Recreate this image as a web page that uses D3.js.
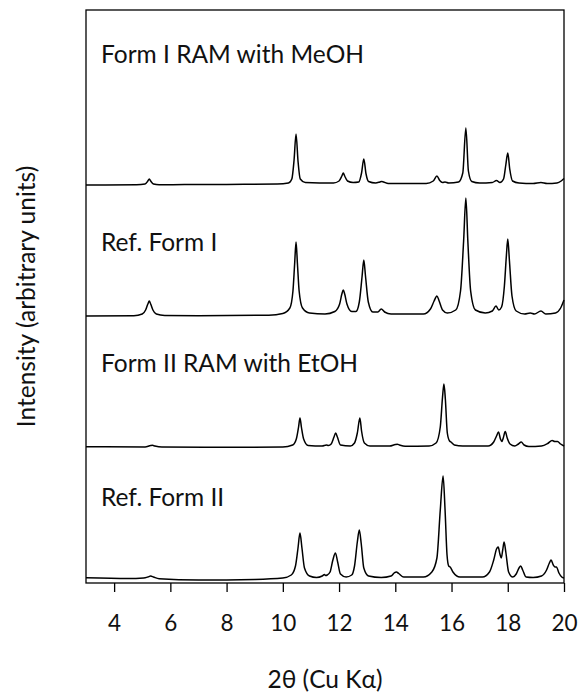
<!DOCTYPE html>
<html>
<head>
<meta charset="utf-8">
<script src="https://cdn.jsdelivr.net/npm/d3@7"></script>
<style>
  body { margin: 0; background: #fff; }
  svg { display: block; font-family: Lato, "Open Sans", sans-serif; }
</style>
</head>
<body>
<div id="chart"></div>
<script>
// pattern names, top to bottom
const patternNames = ['Form I RAM with MeOH', 'Ref. Form I', 'Form II RAM with EtOH', 'Ref. Form II'];
// vertical offset of each pattern (arbitrary units)
const patternOffsets = [398, 267, 136, 3];
const xTicks = [4, 6, 8, 10, 12, 14, 16, 18, 20];

// [2theta, intensity above own baseline]
const formIMeOH = [
  [3.0,0],[4.8,0.3],[5.1,1],[5.2,4],[5.25,6],[5.3,4],[5.4,1],[5.6,0.2],[6.5,0.5],[8,0.6],[9.8,1],
  [10.2,2],[10.32,6],[10.4,25],[10.47,51],[10.54,24],[10.62,6],[10.8,2.5],[11.8,2],[12.0,4],[12.1,9],
  [12.15,12],[12.2,9],[12.3,4],[12.5,2.5],[12.7,3],[12.8,12],[12.88,26],[12.96,11],[13.05,3.5],[13.3,2],
  [13.45,3],[13.51,3.5],[13.58,3],[13.75,1.5],[15.1,1.5],[15.35,4],[15.48,9],[15.58,4.5],[15.68,2.5],
  [15.77,3],[15.9,2],[16.25,3],[16.4,12],[16.51,57],[16.6,14],[16.72,3.5],[17.0,2],[17.45,2.5],[17.6,4.5],
  [17.72,2.5],[17.85,6],[17.93,20],[18.0,32],[18.07,16],[18.17,4],[18.4,2],[18.9,1.5],[19.18,2.5],
  [19.4,1.5],[19.75,2],[19.9,4],[20.0,6.5]
];
const refFormI = [
  [3.0,0],[4.7,0.3],[5.0,2],[5.12,6],[5.2,12],[5.25,15],[5.3,12],[5.38,6],[5.5,2],[5.8,0.5],[7,0.2],
  [9.5,0.8],[10.0,2.5],[10.25,8],[10.36,25],[10.42,52],[10.47,74],[10.52,52],[10.58,25],[10.7,8],
  [10.95,3],[11.5,2],[11.85,4.5],[12.02,12],[12.1,22],[12.15,26],[12.2,22],[12.28,12],[12.45,4.5],
  [12.6,4.5],[12.72,14],[12.82,40],[12.88,56],[12.94,40],[13.04,14],[13.2,4],[13.38,4],[13.5,7],
  [13.62,4],[13.85,2],[15.0,2],[15.25,7],[15.38,15],[15.48,20],[15.56,15],[15.68,6],[15.85,3],
  [16.15,6],[16.32,25],[16.43,75],[16.51,118],[16.58,75],[16.68,25],[16.85,6],[17.2,3],[17.45,5],
  [17.58,10],[17.68,6],[17.78,9],[17.88,30],[17.95,60],[18.0,77],[18.06,55],[18.15,20],[18.3,5],
  [18.6,2],[18.8,3],[18.95,2],[19.18,5],[19.35,2],[19.7,3],[19.88,8],[20.0,16]
];
const formIIEtOH = [
  [3.0,0.3],[5.1,0],[5.3,1.5],[5.36,1.7],[5.45,1],[5.7,0],[8,-0.3],[10.0,0],[10.35,2],[10.48,8],
  [10.56,20],[10.61,29],[10.66,20],[10.74,8],[10.9,1.5],[11.4,1],[11.55,2],[11.62,1.5],[11.72,3],
  [11.82,10],[11.88,14],[11.94,10],[12.05,2],[12.4,1],[12.55,4],[12.65,14],[12.74,29],[12.8,16],
  [12.9,4],[13.1,1],[13.8,1],[14.0,2.5],[14.07,2.8],[14.15,2],[14.35,0.7],[15.2,1],[15.45,4],
  [15.6,20],[15.68,50],[15.73,63],[15.78,48],[15.85,14],[15.93,6],[15.98,5],[16.1,2],[16.4,1],
  [17.3,1],[17.5,5],[17.6,11],[17.67,15],[17.74,8],[17.79,5.5],[17.84,9],[17.91,15.5],[17.98,9],
  [18.08,3],[18.25,1],[18.38,3],[18.48,5],[18.58,2],[18.75,0.5],[19.2,1],[19.42,3.5],[19.58,6.5],
  [19.67,5.5],[19.77,5.5],[19.88,3],[20.0,1]
];
const refFormII = [
  [3.0,2.3],[4.5,1.5],[5.05,2],[5.2,3],[5.3,4],[5.4,3],[5.6,1.2],[7,0],[9,0.6],[10.0,2],[10.3,5],
  [10.45,14],[10.54,32],[10.61,47],[10.68,32],[10.77,12],[10.95,4],[11.2,2.5],[11.4,4],[11.48,5.5],
  [11.52,4.5],[11.58,5],[11.68,8],[11.78,20],[11.87,27],[11.95,18],[12.05,6],[12.25,3],[12.45,5],
  [12.55,14],[12.65,38],[12.72,50],[12.79,36],[12.88,12],[13.05,4],[13.5,2.5],[13.85,4],[13.96,7],
  [14.04,8],[14.12,6.5],[14.3,3],[15.0,3],[15.3,8],[15.48,22],[15.6,70],[15.7,104],[15.77,70],
  [15.84,25],[15.9,14],[15.95,13],[16.05,8],[16.3,3],[17.1,3],[17.35,8],[17.5,20],[17.6,31],
  [17.66,33],[17.72,26],[17.77,22],[17.82,30],[17.87,38],[17.93,28],[18.03,8],[18.18,3],[18.3,6],
  [18.4,12],[18.46,14],[18.53,10],[18.65,3],[18.9,2.5],[19.2,4],[19.38,10],[19.48,17],[19.54,20],
  [19.62,15],[19.68,13],[19.73,13],[19.82,7],[19.92,3],[20.0,2]
];
const patterns = [formIMeOH, refFormI, formIIEtOH, refFormII];

const width = 582, height = 695;
const margin = { top: 10, right: 18, bottom: 112, left: 86 };
// label baselines, pixels above each pattern's offset
const labelRise = [122, 65, 75, 74];

const svg = d3.select('#chart').append('svg')
    .attr('width', width)
    .attr('height', height);

const x = d3.scaleLinear()
    .domain([3, 20])
    .range([margin.left, width - margin.right]);

const y = d3.scaleLinear()
    .domain([0, 573])
    .range([height - margin.bottom, margin.top]);

const line = d3.line()
    .x(d => x(d[0]))
    .y(d => y(d[1]))
    .curve(d3.curveMonotoneX);

const g = svg.append('g');

patterns.forEach((p, i) => {
  const off = patternOffsets[i];
  g.append('path')
      .datum(p.map(d => [d[0], d[1] + off]))
      .attr('fill', 'none')
      .attr('stroke', '#000')
      .attr('stroke-width', 1.5)
      .attr('stroke-linejoin', 'round')
      .attr('d', line);

  g.append('text')
      .attr('x', x(3) + 15)
      .attr('y', y(off) - labelRise[i])
      .attr('font-size', 24.5)
      .attr('fill', '#111')
      .text(patternNames[i]);
});

// frame
svg.append('rect')
    .attr('x', x(3))
    .attr('y', y(573))
    .attr('width', x(20) - x(3))
    .attr('height', y(0) - y(573))
    .attr('fill', 'none')
    .attr('stroke', '#000')
    .attr('stroke-width', 1.3);

svg.append('g')
    .attr('transform', `translate(0,${y(0)})`)
    .call(d3.axisBottom(x).tickValues(xTicks).tickSize(9).tickSizeOuter(0))
    .call(a => a.select('.domain').remove())
    .call(a => a.selectAll('.tick line').attr('stroke', '#000').attr('stroke-width', 1.3))
    .call(a => a.selectAll('.tick text')
      .attr('dy', null)
      .attr('y', 48)
      .attr('fill', '#111')
      .attr('font-family', 'Lato, "Open Sans", sans-serif')
      .attr('font-size', 22.5));

svg.append('text')
    .attr('x', (x(3) + x(20)) / 2)
    .attr('y', 688)
    .attr('text-anchor', 'middle')
    .attr('font-size', 24.5)
    .attr('fill', '#111')
    .text('2\u03B8 (Cu K\u03B1)');

svg.append('text')
    .attr('transform', `translate(35,${(y(0) + y(573)) / 2}) rotate(-90)`)
    .attr('text-anchor', 'middle')
    .attr('font-size', 24.5)
    .attr('fill', '#111')
    .text('Intensity (arbitrary units)');
</script>
</body>
</html>
